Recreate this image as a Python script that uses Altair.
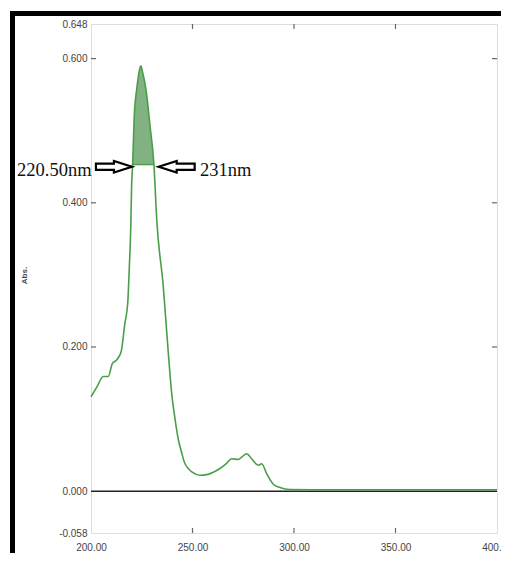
import altair as alt
import pandas as pd

# Absorbance spectrum
wavelength = [200.0, 203.0, 206.0, 208.5, 210.5, 212.6, 214.8, 216.7, 218.1, 218.9, 219.6,
              220.0, 220.5, 221.3, 222.5, 223.6, 224.5, 225.5, 227.1, 229.1, 231.0,
              232.4, 235.6, 238.1, 240.0, 241.0, 242.2, 243.0, 244.7, 246.0, 247.9,
              250.0, 253.7, 257.0, 260.0, 263.5, 266.5, 269.3, 272.6, 274.5, 276.7,
              279.1, 282.4, 284.1, 286.5, 289.8, 293.1, 298.0, 310.0, 330.0, 350.0,
              370.0, 390.0, 400.0]
absorb = [0.131, 0.145, 0.159, 0.159, 0.177, 0.182, 0.193, 0.233, 0.261, 0.312, 0.367,
          0.423, 0.453, 0.520, 0.557, 0.580, 0.590, 0.580, 0.557, 0.506, 0.453,
          0.376, 0.284, 0.191, 0.129, 0.108, 0.085, 0.072, 0.053, 0.040, 0.0315,
          0.026, 0.022, 0.023, 0.026, 0.0315, 0.038, 0.045, 0.044, 0.048, 0.052,
          0.045, 0.036, 0.038, 0.0245, 0.0097, 0.005, 0.0023, 0.002, 0.002, 0.002,
          0.002, 0.002, 0.002]

# Hatched band between 220.50 nm and 231 nm
band_nm = [220.5, 221.3, 222.5, 223.6, 224.5, 225.5, 227.1, 229.1, 231.0]
band_abs = [0.453, 0.520, 0.557, 0.580, 0.590, 0.580, 0.557, 0.506, 0.453]
band_base = 0.453

# Axis ticks
x_ticks = [200, 250, 300, 350, 400]
x_inner_ticks = [250, 300, 350]
y_ticks = [0.648, 0.600, 0.400, 0.200, 0.000, -0.058]
y_inner_ticks = [0.600, 0.400, 0.200]

# Annotations
ann_text = ["220.50nm", "231nm"]
ann_x = [200.3, 253.7]
ann_align = ["right", "left"]
arrow_x = [211.3, 242.2]
arrow_dir = ["right", "left"]

W, H = 406, 509

curve = pd.DataFrame({"nm": wavelength, "abs": absorb})
band = pd.DataFrame({"nm": band_nm, "abs": band_abs, "base": [band_base] * len(band_nm)})

xs = alt.Scale(domain=[200, 400], nice=False, zero=False)
ys = alt.Scale(domain=[-0.058, 0.648], nice=False, zero=False)

xenc = alt.X("nm:Q", scale=xs, axis=alt.Axis(
    values=x_ticks, format=".2f", title="nm", ticks=False, domain=False, grid=False,
    labelFontSize=10, labelColor="#444444", labelFont="Liberation Sans",
    labelPadding=9, labelFlush=False, labelOverlap=False,
    titleFontSize=10, titleColor="#444444", titleFont="Liberation Sans",
    titleFontWeight="normal", titlePadding=4))
yenc = alt.Y("abs:Q", scale=ys, axis=alt.Axis(
    values=y_ticks, title="Abs.", ticks=False, domain=False, grid=False,
    labelExpr="datum.value < 0 ? '-' + format(-datum.value, '.3f') : format(datum.value, '.3f')",
    labelFontSize=10, labelColor="#444444", labelFont="Liberation Sans",
    labelPadding=4, labelFlush=False, labelOverlap=False,
    titleFontSize=8, titleFont="Liberation Sans", titleFontWeight="bold",
    titleColor="#444444", titleAngle=-90, titleX=-67, titleY=251,
    titleAlign="center", titleBaseline="middle"))

green = "#4a9e4a"

area = alt.Chart(band).mark_area(color="#2f7f2f", opacity=0.6, line=False).encode(
    x=alt.X("nm:Q", scale=xs), y=alt.Y("abs:Q", scale=ys), y2="base:Q")

line = alt.Chart(curve).mark_line(color=green, strokeWidth=1.6, interpolate="monotone").encode(
    x=xenc, y=yenc)

band_base_rule = alt.Chart(pd.DataFrame({"x1": [band_nm[0]], "x2": [band_nm[-1]], "y": [band_base]})).mark_rule(
    color=green, strokeWidth=1.4).encode(
    x=alt.X("x1:Q", scale=xs), x2="x2:Q", y=alt.Y("y:Q", scale=ys))

zero_rule = alt.Chart(pd.DataFrame({"y": [0.0]})).mark_rule(color="#222222", strokeWidth=1.4).encode(
    y=alt.Y("y:Q", scale=ys))

xt = pd.DataFrame({"x": x_inner_ticks})
yt = pd.DataFrame({"y": y_inner_ticks})
tick_col = "#666666"
bottom_ticks = alt.Chart(xt).mark_rule(color=tick_col, strokeWidth=1.2).encode(
    x=alt.X("x:Q", scale=xs), y=alt.value(H), y2=alt.value(H - 5))
top_ticks = alt.Chart(xt).mark_rule(color=tick_col, strokeWidth=1.2).encode(
    x=alt.X("x:Q", scale=xs), y=alt.value(0), y2=alt.value(5))
left_ticks = alt.Chart(yt).mark_rule(color=tick_col, strokeWidth=1.2).encode(
    y=alt.Y("y:Q", scale=ys), x=alt.value(0), x2=alt.value(5))
right_ticks = alt.Chart(yt).mark_rule(color=tick_col, strokeWidth=1.2).encode(
    y=alt.Y("y:Q", scale=ys), x=alt.value(W), x2=alt.value(W - 5))

ann = pd.DataFrame({"t": ann_text, "x": ann_x, "y": [0.446, 0.446], "al": ann_align})
texts = alt.layer(*[
    alt.Chart(ann[ann.al == a]).mark_text(
        font="Liberation Serif", fontSize=18.5, color="#111111", align=a, baseline="middle").encode(
        x=alt.X("x:Q", scale=xs), y=alt.Y("y:Q", scale=ys), text="t:N")
    for a in ["right", "left"]
])

right_arrow = "M -1 -0.17 L 0 -0.17 L 0 -0.32 L 1 0 L 0 0.32 L 0 0.17 L -1 0.17 Z"
left_arrow = "M 1 -0.17 L 0 -0.17 L 0 -0.32 L -1 0 L 0 0.32 L 0 0.17 L 1 0.17 Z"
arr = pd.DataFrame({"x": arrow_x, "y": [0.450, 0.450], "d": arrow_dir})
arrows = alt.layer(*[
    alt.Chart(arr[arr.d == d]).mark_point(
        shape=shp, filled=False, stroke="#000000", strokeWidth=2.2, size=1296, opacity=1).encode(
        x=alt.X("x:Q", scale=xs), y=alt.Y("y:Q", scale=ys))
    for d, shp in [("right", right_arrow), ("left", left_arrow)]
])

frame_left = alt.Chart(pd.DataFrame({"k": [0]})).mark_rule(color="#000000", strokeWidth=5).encode(
    x=alt.value(-78.5), y=alt.value(-13), y2=alt.value(560))
frame_top = alt.Chart(pd.DataFrame({"k": [0]})).mark_rule(color="#000000", strokeWidth=5).encode(
    y=alt.value(-10.5), x=alt.value(-81), x2=alt.value(440))

chart = alt.layer(
    area, band_base_rule, zero_rule, line,
    bottom_ticks, top_ticks, left_ticks, right_ticks,
    arrows, texts, frame_left, frame_top
).properties(
    width=W, height=H,
    autosize=alt.AutoSizeParams(type="none"),
    padding={"left": 83, "top": 16, "right": 4, "bottom": 20},
).configure_view(
    stroke="#777777", strokeWidth=1.5
).configure(background="white")

chart.save("out.html", embed_options={"renderer": "svg", "actions": False})
